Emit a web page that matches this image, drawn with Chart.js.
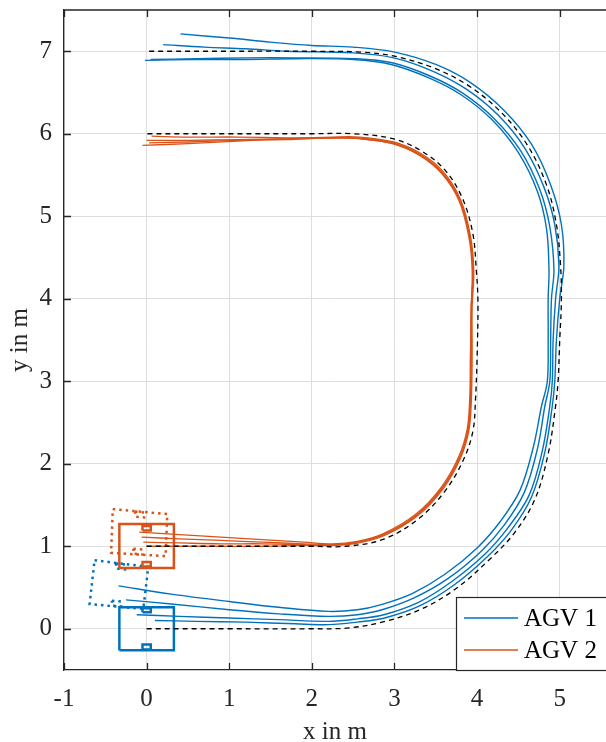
<!DOCTYPE html>
<html>
<head>
<meta charset="utf-8">
<script src="https://cdn.jsdelivr.net/npm/chart.js@4.4.1/dist/chart.umd.min.js"></script>
<style>
  html, body { margin: 0; padding: 0; background: #fff; }
  #wrap { width: 606px; height: 742px; position: relative; }
</style>
</head>
<body>
<div id="wrap"><canvas id="pathChart"></canvas></div>
<script>
// Axes
const xTicks = [-1, 0, 1, 2, 3, 4, 5];
const yTicks = [0, 1, 2, 3, 4, 5, 6, 7];

// Reference paths (black dashed)
const refAgv1 = [[0,0],[1,0],[2,0],[2.45,0.01],[2.89,0.09],[3.33,0.24],[3.75,0.49],[4.15,0.84],[4.45,1.16],[4.7,1.57],[4.86,2.12],[4.95,2.7],[4.98,3.0],[5.0,3.5],[5.02,3.98],[5.01,4.4],[4.96,4.9],[4.84,5.38],[4.61,5.86],[4.29,6.26],[3.9,6.58],[3.47,6.8],[3.0,6.94],[2.6,6.99],[2.0,7.0],[1.0,7.0],[0,7.0]];
const refAgv2 = [[0,1],[1,1],[2,1],[2.42,1.0],[2.88,1.09],[3.3,1.34],[3.62,1.68],[3.84,2.06],[3.95,2.4],[3.98,2.77],[4.0,3.3],[4.01,3.98],[3.99,4.35],[3.95,4.78],[3.83,5.2],[3.62,5.55],[3.33,5.79],[2.98,5.94],[2.5,6.0],[2.0,6.0],[1,6],[0,6]];

// AGV 1 driven paths
const agv1Run1 = [[-0.34,0.52],[0.3,0.42],[1.0,0.33],[1.6,0.26],[2.2,0.21],[2.55,0.23],[2.83,0.29],[3.22,0.43],[3.61,0.66],[4.0,0.98],[4.28,1.3],[4.52,1.68],[4.68,2.2],[4.78,2.7],[4.85,3.0],[4.86,3.5],[4.86,4.0],[4.87,4.35],[4.84,4.85],[4.73,5.3],[4.5,5.77],[4.19,6.16],[3.81,6.47],[3.41,6.68],[2.96,6.84],[2.5,6.9],[1.8,6.91],[1.2,6.9],[0.6,6.9],[-0.02,6.89]];
const agv1Run2 = [[-0.25,0.35],[0.3,0.3],[1.0,0.23],[1.6,0.18],[2.2,0.15],[2.55,0.17],[2.85,0.23],[3.25,0.38],[3.65,0.61],[4.05,0.94],[4.33,1.26],[4.57,1.65],[4.73,2.18],[4.82,2.7],[4.88,3.0],[4.89,3.5],[4.9,4.0],[4.93,4.35],[4.88,4.87],[4.76,5.32],[4.53,5.79],[4.21,6.18],[3.83,6.49],[3.43,6.7],[2.97,6.86],[2.5,6.91],[1.8,6.92],[1.2,6.92],[0.6,6.91],[0.05,6.9]];
const agv1Run3 = [[-0.12,0.17],[0.4,0.15],[1.0,0.13],[1.6,0.11],[2.2,0.09],[2.55,0.12],[2.87,0.17],[3.29,0.32],[3.69,0.57],[4.09,0.9],[4.37,1.22],[4.63,1.62],[4.79,2.16],[4.88,2.7],[4.91,3.0],[4.92,3.5],[4.95,4.0],[4.99,4.4],[4.94,4.9],[4.81,5.35],[4.58,5.82],[4.26,6.22],[3.87,6.54],[3.46,6.76],[2.99,6.92],[2.5,6.98],[1.7,7.0],[1.2,7.03],[0.7,7.05],[0.2,7.08]];
const agv1Run4 = [[0.1,0.1],[0.6,0.09],[1.2,0.08],[1.8,0.06],[2.2,0.05],[2.55,0.08],[2.88,0.13],[3.31,0.28],[3.72,0.53],[4.12,0.87],[4.41,1.19],[4.66,1.6],[4.82,2.14],[4.91,2.7],[4.94,3.0],[4.96,3.5],[5.0,4.0],[5.05,4.4],[5.02,4.9],[4.89,5.38],[4.66,5.87],[4.33,6.28],[3.92,6.62],[3.5,6.84],[3.0,6.99],[2.5,7.05],[2.0,7.07],[1.5,7.11],[1.0,7.16],[0.41,7.21]];

// AGV 2 driven paths
const agv2Run1 = [[-0.09,1.17],[0.4,1.14],[0.9,1.11],[1.4,1.08],[1.9,1.05],[2.25,1.03],[2.55,1.06],[2.86,1.15],[3.26,1.39],[3.57,1.72],[3.78,2.09],[3.88,2.42],[3.91,2.78],[3.92,3.3],[3.93,3.9],[3.94,4.35],[3.9,4.75],[3.78,5.19],[3.57,5.52],[3.3,5.74],[2.98,5.88],[2.58,5.94],[2.25,5.95],[1.7,5.95],[1.1,5.96],[0.5,5.96],[0.06,5.97]];
const agv2Run2 = [[-0.06,1.11],[0.4,1.09],[0.9,1.07],[1.4,1.05],[1.9,1.03],[2.25,1.02],[2.56,1.05],[2.87,1.14],[3.27,1.38],[3.58,1.71],[3.79,2.08],[3.89,2.41],[3.92,2.77],[3.93,3.3],[3.93,3.9],[3.95,4.35],[3.91,4.76],[3.79,5.2],[3.58,5.53],[3.31,5.75],[2.98,5.89],[2.58,5.95],[2.25,5.95],[1.7,5.94],[1.1,5.93],[0.5,5.92],[0.0,5.92]];
const agv2Run3 = [[-0.04,1.05],[0.4,1.04],[0.9,1.03],[1.4,1.03],[1.9,1.02],[2.25,1.01],[2.57,1.04],[2.88,1.13],[3.28,1.37],[3.59,1.7],[3.8,2.07],[3.9,2.4],[3.93,2.76],[3.94,3.3],[3.94,3.9],[3.96,4.34],[3.92,4.76],[3.8,5.2],[3.59,5.54],[3.32,5.76],[2.99,5.9],[2.58,5.96],[2.25,5.96],[1.7,5.94],[1.1,5.91],[0.5,5.88],[-0.05,5.86]];
const agv2Run4 = [[0.0,1.0],[0.4,1.0],[0.9,1.0],[1.4,1.0],[1.9,1.01],[2.25,1.01],[2.56,1.05],[2.87,1.14],[3.27,1.38],[3.58,1.71],[3.79,2.08],[3.89,2.41],[3.92,2.77],[3.92,3.3],[3.93,3.9],[3.95,4.35],[3.91,4.75],[3.79,5.19],[3.58,5.52],[3.31,5.74],[2.98,5.88],[2.58,5.94],[2.25,5.95],[1.7,5.93],[1.1,5.92],[0.5,5.9],[0.03,5.89]];

// Vehicle outlines (start pose solid, earlier pose dotted)
const agv1Body = [[-0.33,-0.26],[0.33,-0.26],[0.33,0.26],[-0.33,0.26],[-0.33,-0.26]];
const agv1WheelTop = [[-0.05,0.2],[0.05,0.2],[0.05,0.25],[-0.05,0.25],[-0.05,0.2]];
const agv1WheelBot = [[-0.05,-0.25],[0.05,-0.25],[0.05,-0.19],[-0.05,-0.19],[-0.05,-0.25]];
const agv2Body = [[-0.33,0.735],[0.33,0.735],[0.33,1.27],[-0.33,1.27],[-0.33,0.735]];
const agv2WheelTop = [[-0.05,1.19],[0.05,1.19],[0.05,1.245],[-0.05,1.245],[-0.05,1.19]];
const agv2WheelBot = [[-0.05,0.755],[0.05,0.755],[0.05,0.81],[-0.05,0.81],[-0.05,0.755]];
const agv1Ghost = [[-0.63,0.83],[0.02,0.75],[-0.04,0.24],[-0.69,0.3],[-0.63,0.83]];
const agv1GhostWheelTop = [[-0.37,0.79],[-0.26,0.78],[-0.26,0.72],[-0.37,0.73],[-0.37,0.79]];
const agv1GhostWheelBot = [[-0.42,0.34],[-0.31,0.33],[-0.31,0.27],[-0.42,0.28],[-0.42,0.34]];
const agv2Ghost = [[-0.41,1.45],[0.25,1.39],[0.23,0.88],[-0.43,0.92],[-0.41,1.45]];
const agv2GhostWheelTop = [[-0.14,1.42],[-0.03,1.41],[-0.03,1.35],[-0.14,1.36],[-0.14,1.42]];
const agv2GhostWheelBot = [[-0.16,0.97],[-0.05,0.96],[-0.05,0.9],[-0.16,0.91],[-0.16,0.97]];

const legendLabels = ['AGV 1', 'AGV 2'];

const BLUE = '#0072BD';
const ORANGE = '#D95319';
const AXIS = '#262626';
const GRID = '#dedede';
const FONT = "'Liberation Serif', 'Times New Roman', serif";

function pts(arr) {
    return arr.map(p => ({ x: p[0], y: p[1] }));
}

function pathSet(arr, color, width, extra) {
    return Object.assign({
        data: pts(arr),
        showLine: true,
        borderColor: color,
        borderWidth: width,
        pointRadius: 0,
        fill: false,
        tension: 0.35
    }, extra || {});
}

function boxSet(arr, color, dotted) {
    return pathSet(arr, color, 2.5, {
        tension: 0,
        borderDash: dotted ? [2.5, 4] : [],
        borderJoinStyle: 'miter'
    });
}

const datasets = [
    pathSet(refAgv1, '#000', 1.3, { borderDash: [5, 4] }),
    pathSet(refAgv2, '#000', 1.3, { borderDash: [5, 4] }),
    boxSet(agv1Body, BLUE, false),
    boxSet(agv1WheelTop, BLUE, false),
    boxSet(agv1WheelBot, BLUE, false),
    boxSet(agv2Body, ORANGE, false),
    boxSet(agv2WheelTop, ORANGE, false),
    boxSet(agv2WheelBot, ORANGE, false),
    boxSet(agv1Ghost, BLUE, true),
    boxSet(agv1GhostWheelTop, BLUE, true),
    boxSet(agv1GhostWheelBot, BLUE, true),
    boxSet(agv2Ghost, ORANGE, true),
    boxSet(agv2GhostWheelTop, ORANGE, true),
    boxSet(agv2GhostWheelBot, ORANGE, true),
    pathSet(agv1Run1, BLUE, 1.4),
    pathSet(agv1Run2, BLUE, 1.4),
    pathSet(agv1Run3, BLUE, 1.4),
    pathSet(agv1Run4, BLUE, 1.4),
    pathSet(agv2Run1, ORANGE, 1.3),
    pathSet(agv2Run2, ORANGE, 1.3),
    pathSet(agv2Run3, ORANGE, 1.3),
    pathSet(agv2Run4, ORANGE, 1.3)
];

// Top border and inward tick marks (MATLAB box style)
const framePlugin = {
    id: 'frame',
    beforeDatasetsDraw(chart) {
        const { ctx, chartArea: a, scales } = chart;
        ctx.save();
        ctx.strokeStyle = AXIS;
        ctx.lineWidth = 1.3;
        ctx.beginPath();
        ctx.moveTo(a.left, a.top);
        ctx.lineTo(a.right, a.top);
        xTicks.forEach(v => {
            const px = Math.round(scales.x.getPixelForValue(v)) + 0.5;
            ctx.moveTo(px, a.bottom);
            ctx.lineTo(px, a.bottom - 7);
            ctx.moveTo(px, a.top);
            ctx.lineTo(px, a.top + 7);
        });
        yTicks.forEach(v => {
            const py = Math.round(scales.y.getPixelForValue(v)) + 0.5;
            ctx.moveTo(a.left, py);
            ctx.lineTo(a.left + 7, py);
        });
        ctx.stroke();
        ctx.restore();
    }
};

// Legend box in the lower right corner
const legendPlugin = {
    id: 'boxLegend',
    afterDraw(chart) {
        const { ctx, chartArea: a } = chart;
        const x0 = 456, y0 = 597;
        ctx.save();
        ctx.fillStyle = '#fff';
        ctx.fillRect(x0, y0, a.right - x0 + 10, a.bottom - y0);
        ctx.strokeStyle = AXIS;
        ctx.lineWidth = 1.2;
        ctx.strokeRect(x0 + 0.5, y0 + 0.5, a.right - x0 + 10, a.bottom - y0);
        const colors = [BLUE, ORANGE];
        ctx.font = '25px ' + FONT;
        ctx.textBaseline = 'middle';
        legendLabels.forEach((label, i) => {
            const y = 618 + i * 32;
            ctx.strokeStyle = colors[i];
            ctx.lineWidth = 1.4;
            ctx.beginPath();
            ctx.moveTo(464, y);
            ctx.lineTo(518, y);
            ctx.stroke();
            ctx.fillStyle = '#000';
            ctx.fillText(label, 524, y + 1);
        });
        ctx.restore();
    }
};

const tickFont = { family: FONT, size: 25, lineHeight: 1 };

// fixed axis bands so the plot box lands where the reference has it
function fitX(s) {
    s.paddingLeft = 0;
    s.paddingRight = 0;
    s.height = 72;
}
function fitY(s) {
    s.paddingTop = 0;
    s.paddingBottom = 0;
    s.width = 63;
}

new Chart(document.getElementById('pathChart'), {
    type: 'scatter',
    data: { datasets: datasets },
    options: {
        responsive: true,
        maintainAspectRatio: false,
        animation: false,
        devicePixelRatio: 1,
        layout: { padding: { left: 1, top: 10, right: 0, bottom: 0 } },
        plugins: {
            legend: { display: false },
            tooltip: { enabled: false }
        },
        scales: {
            x: {
                type: 'linear',
                min: -1,
                max: 5.56,
                afterBuildTicks: s => { s.ticks = xTicks.map(v => ({ value: v })); },
                afterFit: fitX,
                ticks: { font: tickFont, color: AXIS, padding: 17, maxRotation: 0 },
                grid: { color: GRID, lineWidth: 1, drawTicks: false },
                border: { display: true, color: AXIS, width: 1.3 },
                title: { display: true, text: 'x in m', font: { family: FONT, size: 25, lineHeight: 1.2 }, color: AXIS, padding: { top: 0, bottom: -5 } }
            },
            y: {
                type: 'linear',
                min: -0.5,
                max: 7.5,
                afterBuildTicks: s => { s.ticks = yTicks.map(v => ({ value: v })); },
                afterFit: fitY,
                ticks: { font: tickFont, color: AXIS, padding: 12 },
                grid: { color: GRID, lineWidth: 1, drawTicks: false },
                border: { display: true, color: AXIS, width: 1.3 },
                title: { display: true, text: 'y in m', font: { family: FONT, size: 25, lineHeight: 1.2 }, color: AXIS, padding: { top: 4, bottom: 4 } }
            }
        }
    },
    plugins: [framePlugin, legendPlugin]
});
</script>
</body>
</html>
